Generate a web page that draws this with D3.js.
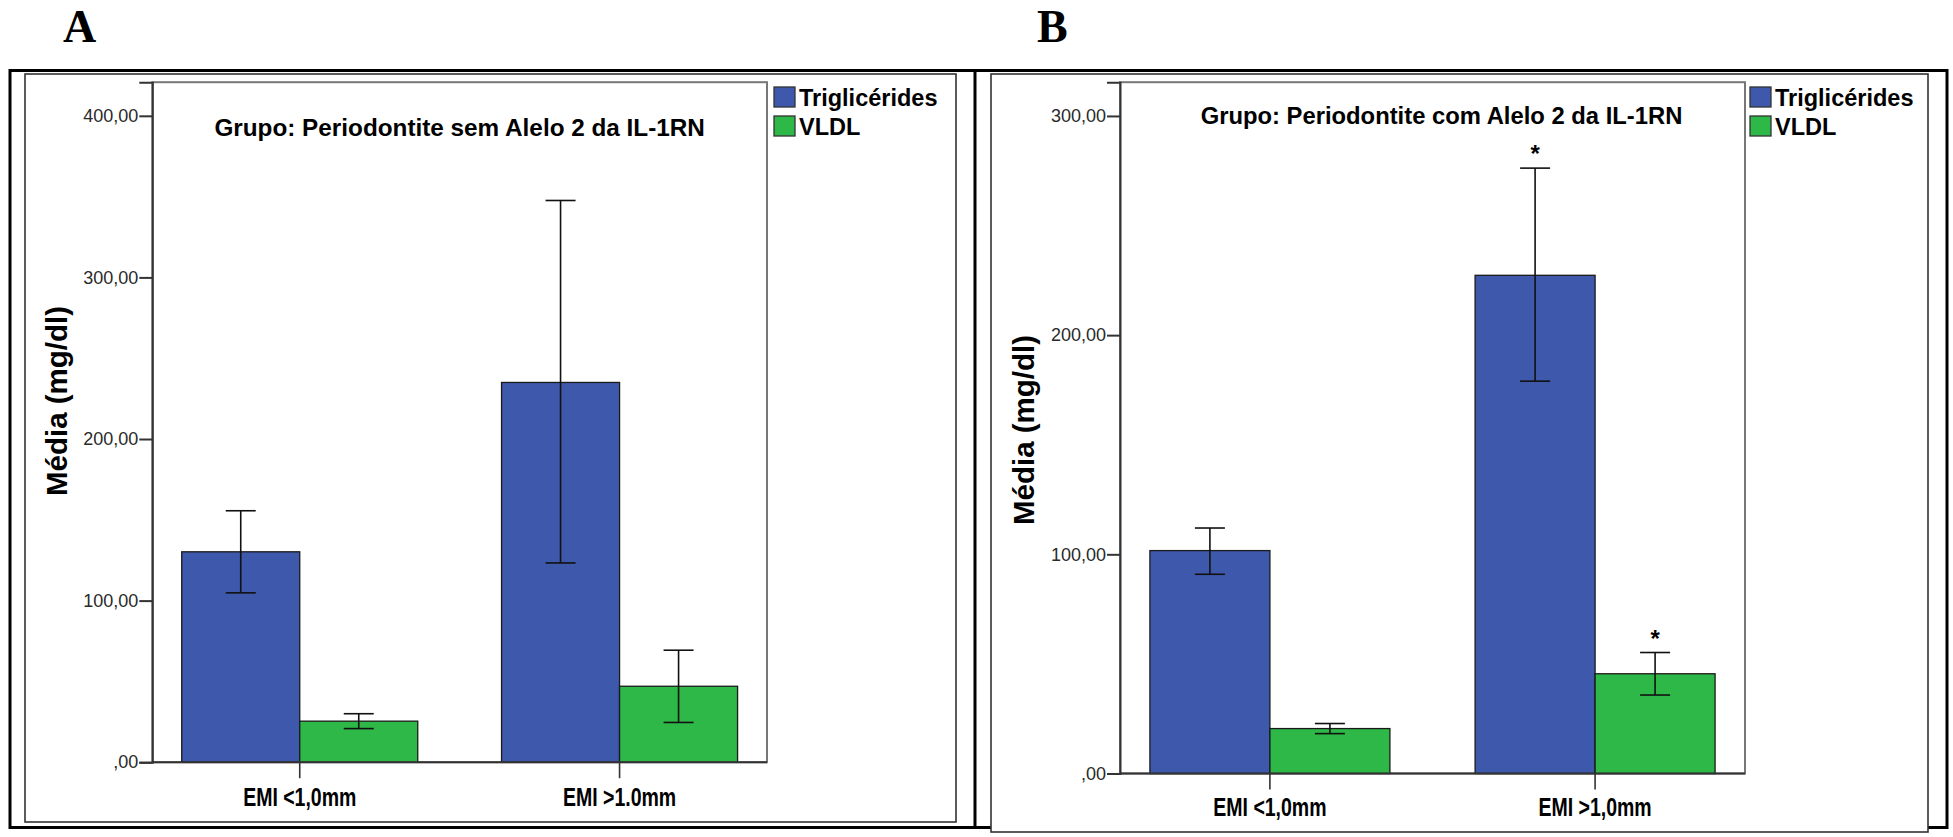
<!DOCTYPE html>
<html>
<head>
<meta charset="utf-8">
<script src="https://cdn.jsdelivr.net/npm/d3@7"></script>
<style>
  html, body { margin: 0; padding: 0; background: #fff; }
  svg { display: block; font-family: "Liberation Sans", Arial, sans-serif; }
</style>
</head>
<body>
<svg id="fig" width="1953" height="837"></svg>
<script>
// ---- data ----
const series = ["Triglicérides", "VLDL"];

const categoriesA = ["EMI <1,0mm", "EMI >1.0mm"];
const trigMeanA = [130.2, 235.0];
const trigLowA  = [104.8, 123.3];
const trigHighA = [155.6, 347.6];
const vldlMeanA = [25.4, 47.0];
const vldlLowA  = [20.8, 24.6];
const vldlHighA = [30.0, 69.3];
const ticksA = [0, 100, 200, 300, 400];
const yMaxA = 420.8;

const categoriesB = ["EMI <1,0mm", "EMI >1,0mm"];
const trigMeanB = [101.7, 227.3];
const trigLowB  = [90.9, 179.0];
const trigHighB = [112.0, 276.2];
const vldlMeanB = [20.5, 45.5];
const vldlLowB  = [18.2, 35.8];
const vldlHighB = [22.8, 55.2];
const signifTrigB = [false, true];
const signifVldlB = [false, true];
const ticksB = [0, 100, 200, 300];
const yMaxB = 315.4;

const colors = ["#3e58ac", "#2eb848"];

// ---- helpers ----
const fmt2 = d3.formatLocale({decimal: ",", thousands: ".", grouping: [3], currency: ["", ""]}).format(".2f");
const tickFmt = d => d === 0 ? ",00" : fmt2(d);

function rows(cats, tm, tl, th, vm, vl, vh, st, sv) {
  return cats.map((c, i) => ({
    cat: c,
    vals: [
      {s: series[0], mean: tm[i], lo: tl[i], hi: th[i], sig: st ? st[i] : false},
      {s: series[1], mean: vm[i], lo: vl[i], hi: vh[i], sig: sv ? sv[i] : false}
    ]
  }));
}

const panels = [
  {
    letter: "A", letterX: 63,
    title: "Grupo: Periodontite sem Alelo 2 da IL-1RN", titleY: 136, titleDx: 0, titleSize: 24.3,
    data: rows(categoriesA, trigMeanA, trigLowA, trigHighA, vldlMeanA, vldlLowA, vldlHighA),
    ticks: ticksA, yMax: yMaxA,
    frame: {x0: 25, y0: 74, x1: 956, y1: 822},
    plot: {x0: 152.3, x1: 767, y0: 82.2, y1: 762.2},
    legendX: 774, yTitleX: 67, yTitleY: 401, labelY: 806
  },
  {
    letter: "B", letterX: 1037,
    title: "Grupo: Periodontite com Alelo 2 da IL-1RN", titleY: 124, titleDx: 9, titleSize: 23.8,
    data: rows(categoriesB, trigMeanB, trigLowB, trigHighB, vldlMeanB, vldlLowB, vldlHighB, signifTrigB, signifVldlB),
    ticks: ticksB, yMax: yMaxB,
    frame: {x0: 991, y0: 74, x1: 1928, y1: 832},
    plot: {x0: 1120, x1: 1745, y0: 82.2, y1: 773.5},
    legendX: 1750, yTitleX: 1034, yTitleY: 430, labelY: 816
  }
];

const svg = d3.select("#fig");

// outer table lines
const table = svg.append("g").attr("fill", "none").attr("stroke", "#000").attr("stroke-width", 3);
table.append("rect").attr("x", 10).attr("y", 70.5).attr("width", 1937).attr("height", 757);
table.append("line").attr("x1", 975).attr("x2", 975).attr("y1", 70).attr("y2", 828);

panels.forEach(p => {
  const g = svg.append("g");

  // panel letter
  svg.append("text")
    .attr("x", p.letterX).attr("y", 42)
    .style("font-family", "'Liberation Serif', 'Times New Roman', serif")
    .attr("font-weight", "bold").attr("font-size", 46)
    .text(p.letter);

  // chart frame
  g.append("rect")
    .attr("x", p.frame.x0).attr("y", p.frame.y0)
    .attr("width", p.frame.x1 - p.frame.x0).attr("height", p.frame.y1 - p.frame.y0)
    .attr("fill", "#fff").attr("stroke", "#333").attr("stroke-width", 1.6);

  const x0 = d3.scaleBand()
    .domain(p.data.map(d => d.cat))
    .range([p.plot.x0, p.plot.x1])
    .paddingInner(0.262).paddingOuter(0.092);
  const x1 = d3.scaleBand().domain(series).range([0, x0.bandwidth()]);
  const y = d3.scaleLinear().domain([0, p.yMax]).range([p.plot.y1, p.plot.y0]);

  // plot box
  g.append("rect")
    .attr("x", p.plot.x0).attr("y", p.plot.y0)
    .attr("width", p.plot.x1 - p.plot.x0).attr("height", p.plot.y1 - p.plot.y0)
    .attr("fill", "#fff").attr("stroke", "#777").attr("stroke-width", 2);

  // bars
  const grp = g.selectAll(".grp").data(p.data).join("g")
    .attr("transform", d => `translate(${x0(d.cat)},0)`);
  grp.selectAll("rect.bar").data(d => d.vals).join("rect")
    .attr("class", "bar")
    .attr("x", d => x1(d.s)).attr("width", x1.bandwidth())
    .attr("y", d => y(d.mean)).attr("height", d => y(0) - y(d.mean))
    .attr("fill", (d, i) => colors[i])
    .attr("stroke", "#1a1a1a").attr("stroke-width", 1.3);

  // error bars
  const capW = 30;
  const eb = grp.selectAll("g.err").data(d => d.vals).join("g")
    .attr("class", "err")
    .attr("transform", d => `translate(${x1(d.s) + x1.bandwidth() / 2},0)`)
    .attr("stroke", "#111").attr("stroke-width", 1.6);
  eb.append("line").attr("y1", d => y(d.lo)).attr("y2", d => y(d.hi));
  eb.append("line").attr("x1", -capW / 2).attr("x2", capW / 2).attr("y1", d => y(d.hi)).attr("y2", d => y(d.hi));
  eb.append("line").attr("x1", -capW / 2).attr("x2", capW / 2).attr("y1", d => y(d.lo)).attr("y2", d => y(d.lo));

  // significance marks
  grp.selectAll("text.sig").data(d => d.vals.filter(v => v.sig)).join("text")
    .attr("class", "sig")
    .attr("x", d => x1(d.s) + x1.bandwidth() / 2)
    .attr("y", d => y(d.hi) - 6)
    .attr("text-anchor", "middle")
    .attr("font-weight", "bold").attr("font-size", 24)
    .text("*");

  // y axis
  const yAxis = g.append("g")
    .attr("transform", `translate(${p.plot.x0},0)`)
    .call(d3.axisLeft(y).tickValues(p.ticks).tickFormat(tickFmt).tickSize(13).tickPadding(1));
  yAxis.select(".domain").attr("stroke", "#333").attr("stroke-width", 2);
  yAxis.selectAll(".tick line").attr("stroke", "#333").attr("stroke-width", 2);
  yAxis.selectAll(".tick text")
    .style("font-family", "'Liberation Sans', Arial, sans-serif")
    .attr("font-size", 18).attr("fill", "#2a2a2a");

  // baseline
  g.append("line")
    .attr("x1", p.plot.x0).attr("x2", p.plot.x1)
    .attr("y1", y(0)).attr("y2", y(0))
    .attr("stroke", "#333").attr("stroke-width", 2);

  // x axis
  const xAxis = g.append("g")
    .attr("transform", `translate(0,${y(0)})`)
    .call(d3.axisBottom(x0).tickSize(16).tickFormat(""));
  xAxis.select(".domain").remove();
  xAxis.selectAll(".tick line").attr("stroke", "#333").attr("stroke-width", 1.6);

  // category labels (condensed bold)
  g.selectAll("text.cat").data(p.data).join("text")
    .attr("class", "cat")
    .attr("transform", d => `translate(${x0(d.cat) + x0.bandwidth() / 2},${p.labelY}) scale(0.78,1)`)
    .attr("text-anchor", "middle")
    .attr("font-weight", "bold").attr("font-size", 25)
    .text(d => d.cat);

  // y axis title
  g.append("text")
    .attr("transform", `translate(${p.yTitleX},${p.yTitleY}) rotate(-90)`)
    .attr("text-anchor", "middle")
    .attr("font-weight", "bold").attr("font-size", 29.5)
    .text("Média (mg/dl)");

  // chart title
  g.append("text")
    .attr("x", (p.plot.x0 + p.plot.x1) / 2 + p.titleDx).attr("y", p.titleY)
    .attr("text-anchor", "middle")
    .attr("font-weight", "bold").attr("font-size", p.titleSize)
    .text(p.title);

  // legend
  const lg = g.append("g").attr("transform", `translate(${p.legendX},87)`);
  const item = lg.selectAll("g").data(series).join("g")
    .attr("transform", (d, i) => `translate(0,${i * 29})`);
  item.append("rect").attr("width", 21).attr("height", 20)
    .attr("fill", (d, i) => colors[i]).attr("stroke", "#333").attr("stroke-width", 1.3);
  item.append("text").attr("x", 25).attr("y", 19)
    .attr("font-weight", "bold").attr("font-size", 23.5)
    .text(d => d);
});
</script>
</body>
</html>
